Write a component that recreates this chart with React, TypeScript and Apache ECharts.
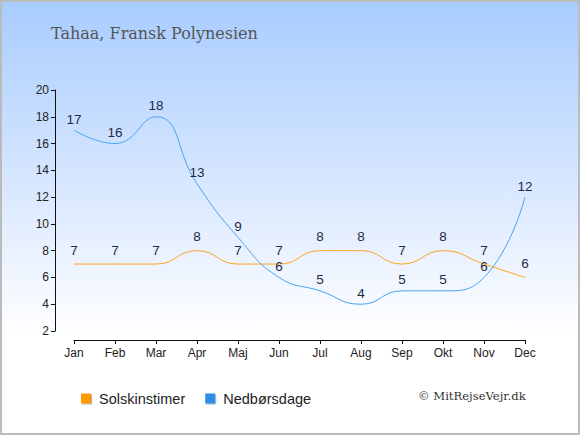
import React, { useEffect, useRef } from "react";
import * as echarts from "echarts";

const months = ["Jan", "Feb", "Mar", "Apr", "Maj", "Jun", "Jul", "Aug", "Sep", "Okt", "Nov", "Dec"];
const sunHours = [7, 7, 7, 8, 7, 7, 8, 8, 7, 8, 7, 6];
const rainDays = [17, 16, 18, 13, 9, 6, 5, 4, 5, 5, 6, 12];
const titleText = "Tahaa, Fransk Polynesien";
const sunName = "Solskinstimer";
const rainName = "Nedbørsdage";
const creditText = "© MitRejseVejr.dk";

export default function App() {
  const ref = useRef<HTMLDivElement>(null);
  useEffect(() => {
    if (!ref.current) return;
    const chart = echarts.init(ref.current, undefined, { renderer: "svg" });
    const labelBase = {
      show: true,
      position: "top" as const,
      fontFamily: "Liberation Sans, Arial, sans-serif",
      fontSize: 13.5,
      lineHeight: 12,
      color: "#1c2b4a",
    };
    chart.setOption({
      animation: false,
      title: {
        text: titleText,
        left: 46,
        top: 20,
        textStyle: {
          fontFamily: "DejaVu Serif, serif",
          fontWeight: "normal",
          fontSize: 16,
          color: "#555555",
        },
      },
      legend: {
        left: 76,
        top: 386,
        itemWidth: 10,
        itemHeight: 10,
        itemGap: 20,
        icon: "rect",
        textStyle: {
          fontFamily: "Liberation Sans, Arial, sans-serif",
          fontSize: 14.5,
          color: "#222222",
          padding: [0, 0, 0, 3],
        },
        data: [
          { name: sunName, itemStyle: { color: "#ff9900", shadowColor: "rgba(0,0,0,0.3)", shadowOffsetX: 1, shadowOffsetY: 1, shadowBlur: 1 } },
          { name: rainName, itemStyle: { color: "#2f8fe6", shadowColor: "rgba(0,0,0,0.3)", shadowOffsetX: 1, shadowOffsetY: 1, shadowBlur: 1 } },
        ],
      },
      graphic: [
        {
          type: "text",
          left: 418,
          top: 390,
          style: {
            text: creditText,
            fontFamily: "DejaVu Serif, serif",
            fontSize: 11.6,
            fill: "#333333",
          },
        },
      ],
      grid: { left: 74, right: 55, top: 90, bottom: 104, containLabel: false },
      xAxis: {
        type: "category",
        data: months,
        boundaryGap: false,
        offset: 9,
        axisLine: { lineStyle: { color: "#111111", width: 1 } },
        axisTick: { alignWithLabel: true, length: 4, lineStyle: { color: "#111111" } },
        axisLabel: {
          fontFamily: "Liberation Sans, Arial, sans-serif",
          fontSize: 12,
          color: "#222222",
          margin: 7,
        },
        splitLine: { show: false },
      },
      yAxis: {
        type: "value",
        min: 2,
        max: 20,
        interval: 2,
        offset: 19,
        axisLine: { show: true, lineStyle: { color: "#111111", width: 1 } },
        axisTick: { show: true, length: 4, lineStyle: { color: "#111111" } },
        axisLabel: {
          fontFamily: "Liberation Sans, Arial, sans-serif",
          fontSize: 12,
          color: "#222222",
          margin: 6,
        },
        splitLine: { show: false },
      },
      series: [
        {
          name: sunName,
          type: "line",
          data: sunHours,
          smooth: 0.5,
          showSymbol: true,
          symbol: "circle",
          symbolSize: 0,
          lineStyle: { color: "#ffa21f", width: 1 },
          itemStyle: { color: "#ff9900" },
          label: { ...labelBase, distance: 8 },
        },
        {
          name: rainName,
          type: "line",
          data: rainDays,
          smooth: 0.5,
          showSymbol: true,
          symbol: "circle",
          symbolSize: 0,
          lineStyle: { color: "#4aa3ee", width: 1 },
          itemStyle: { color: "#2f8fe6" },
          label: { ...labelBase, distance: 5 },
        },
      ],
    });
    return () => chart.dispose();
  }, []);
  return (
    <div
      style={{
        position: "fixed",
        left: 0,
        top: 0,
        width: 580,
        height: 435,
        boxSizing: "border-box",
        border: "2px solid #bbbbbb",
        background: "linear-gradient(to bottom, #a8ccff 0%, #dbe9ff 45%, #ffffff 78%, #ffffff 100%)",
      }}
    >
      <div ref={ref} style={{ position: "absolute", left: -2, top: -2, width: 580, height: 435 }} />
    </div>
  );
}
